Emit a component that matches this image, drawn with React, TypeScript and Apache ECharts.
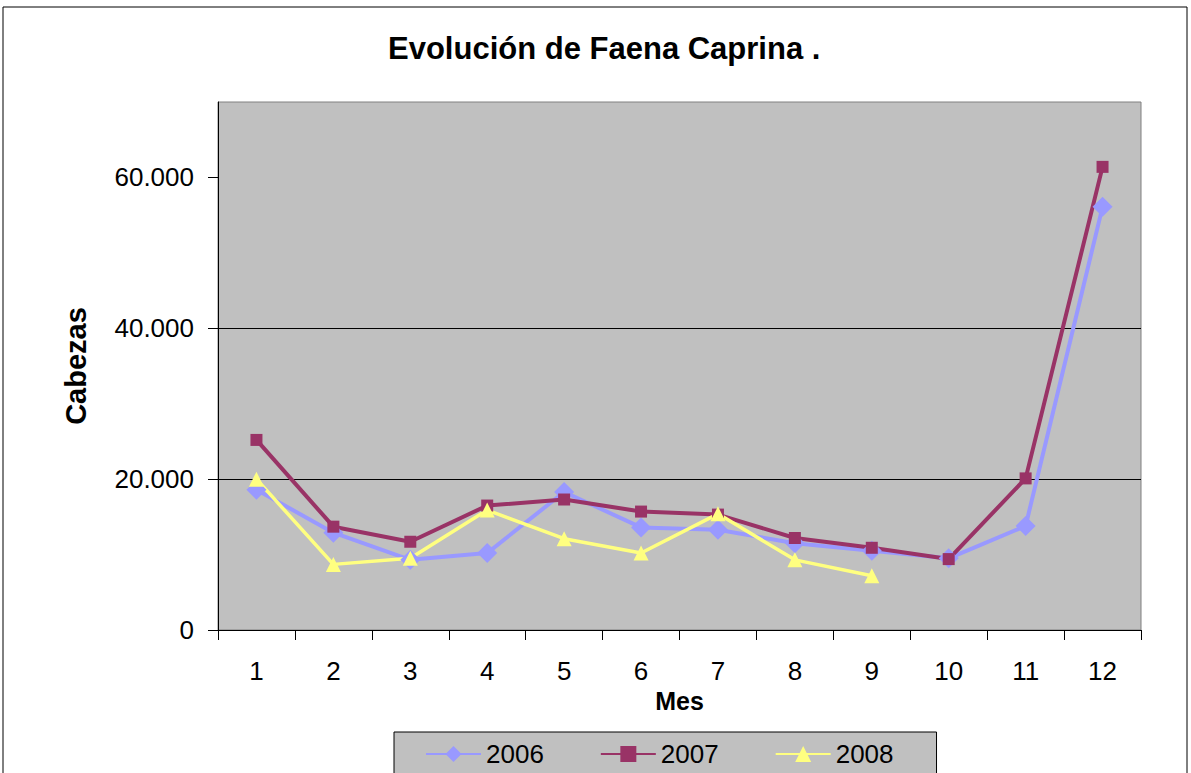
import React, { useEffect, useRef } from "react";
import * as echarts from "echarts";

const months = ["1", "2", "3", "4", "5", "6", "7", "8", "9", "10", "11", "12"];
const s2006 = [18600, 12900, 9300, 10200, 18300, 13600, 13300, 11500, 10500, 9500, 13800, 56100];
const s2007 = [25200, 13700, 11700, 16500, 17300, 15700, 15300, 12200, 10900, 9400, 20100, 61400];
const s2008 = [20000, 8700, 9500, 15900, 12100, 10200, 15400, 9300, 7200, null, null, null];
const yTickValues = [0, 20000, 40000, 60000];
const yRange = { min: 0, max: 70000, interval: 20000 };

const FONT = "Arial, 'Liberation Sans', sans-serif";

function fmt(v: number) {
  return String(v).replace(/\B(?=(\d{3})+(?!\d))/g, ".");
}

export default function App() {
  const ref = useRef<HTMLDivElement>(null);
  useEffect(() => {
    const chart = echarts.init(ref.current!, null, { renderer: "svg" });
    const mk = (name: string, data: (number | null)[], color: string, symbol: string, size: number, w: number) => ({
      name,
      type: "line",
      data,
      symbol,
      symbolSize: size,
      showAllSymbol: true,
      connectNulls: false,
      itemStyle: { color },
      lineStyle: { color, width: w },
      emphasis: { disabled: true },
    });
    chart.setOption({
      animation: false,
      textStyle: { fontFamily: FONT },
      title: {
        text: "Evolución de Faena Caprina .",
        left: 383,
        top: 28,
        textStyle: { fontFamily: FONT, fontSize: 31, fontWeight: "bold", color: "#000" },
      },
      graphic: [
        {
          type: "rect",
          shape: { x: 3, y: 7, width: 1184, height: 800 },
          style: { fill: "none", stroke: "#000", lineWidth: 1 },
          silent: true,
          z: -10,
        },
      ],
      legend: {
        left: 394,
        top: 732,
        data: ["2006", "2007", "2008"],
        backgroundColor: "#c0c0c0",
        borderColor: "#000",
        borderWidth: 1,
        borderRadius: 0,
        padding: [9, 43, 12, 31],
        itemWidth: 55,
        itemHeight: 20,
        itemGap: 56,
        textStyle: { fontFamily: FONT, fontSize: 26, color: "#000" },
      },
      grid: {
        left: 218,
        right: 50,
        top: 102,
        bottom: 143,
        show: true,
        backgroundColor: "#c0c0c0",
        borderColor: "#808080",
        borderWidth: 1,
      },
      xAxis: {
        type: "category",
        data: months,
        boundaryGap: true,
        name: "Mes",
        nameLocation: "middle",
        nameGap: 57,
        nameTextStyle: { fontFamily: FONT, fontSize: 25, fontWeight: "bold", color: "#000" },
        axisLine: { lineStyle: { color: "#000", width: 1 } },
        axisTick: { show: true, length: 10, lineStyle: { color: "#000" } },
        axisLabel: { fontFamily: FONT, fontSize: 26, color: "#000", margin: 28 },
        splitLine: { show: false },
      },
      yAxis: {
        type: "value",
        min: yRange.min,
        max: yRange.max,
        interval: yRange.interval,
        name: "Cabezas",
        nameLocation: "middle",
        nameGap: 128,
        nameTextStyle: { fontFamily: FONT, fontSize: 29, fontWeight: "bold", color: "#000" },
        axisLine: { show: true, lineStyle: { color: "#000", width: 1 } },
        axisTick: { show: true, length: 10, customValues: yTickValues, lineStyle: { color: "#000" } },
        axisLabel: {
          fontFamily: FONT,
          fontSize: 26,
          color: "#000",
          margin: 24,
          customValues: yTickValues,
          formatter: (v: number) => fmt(v),
        },
        splitLine: {
          show: true,
          showMinLine: false,
          showMaxLine: false,
          lineStyle: { color: "#000", width: 1 },
        },
      },
      series: [
        mk("2006", s2006, "#9999ff", "diamond", 20, 4),
        mk("2007", s2007, "#993366", "rect", 12, 4),
        mk("2008", s2008, "#ffff80", "triangle", 15, 3.5),
      ],
    });
    return () => chart.dispose();
  }, []);
  return (
    <div
      ref={ref}
      style={{ position: "absolute", left: 0, top: 0, width: 1191, height: 773, background: "#fff" }}
    />
  );
}
